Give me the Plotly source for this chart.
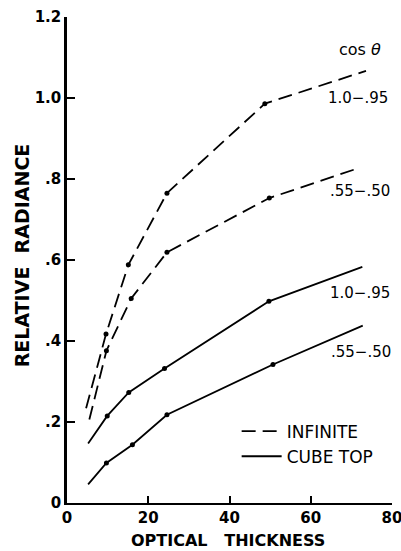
import plotly.graph_objects as go

# ---- data ----
inf_hi_x = [4.7, 9.6, 15.1, 24.6, 48.7, 73.6]
inf_hi_y = [0.234, 0.417, 0.588, 0.765, 0.986, 1.067]
inf_lo_x = [5.5, 9.7, 15.8, 24.6, 49.8, 72.1]
inf_lo_y = [0.206, 0.376, 0.505, 0.619, 0.753, 0.828]
cube_hi_x = [5.2, 9.9, 15.2, 24.0, 49.7, 72.7]
cube_hi_y = [0.147, 0.215, 0.273, 0.332, 0.498, 0.583]
cube_lo_x = [5.2, 9.7, 16.1, 24.6, 50.7, 72.8]
cube_lo_y = [0.046, 0.099, 0.144, 0.218, 0.342, 0.438]

x_ticks = [0, 20, 40, 60, 80]
x_ticktext = ["0", "20", "40", "60", "80"]
y_ticks = [0, 0.2, 0.4, 0.6, 0.8, 1.0, 1.2]
y_ticktext = ["0", ".2", ".4", ".6", ".8", "1.0", "1.2"]

label_hi = "1.0\u2212.95"
label_lo = ".55\u2212.50"
labels = [
    ("cos <i>\u03b8</i>", 72.0, 1.12, 16),
    (label_hi, 71.6, 1.00, 15),
    (label_lo, 72.0, 0.77, 15),
    (label_hi, 72.0, 0.518, 15),
    (label_lo, 72.3, 0.373, 15),
]

DASH = "14px,7px"
FONT = "DejaVu Sans"

fig = go.Figure()
series = [
    (inf_hi_x, inf_hi_y, DASH, "INFINITE", True),
    (inf_lo_x, inf_lo_y, DASH, "INFINITE", False),
    (cube_hi_x, cube_hi_y, "solid", "CUBE TOP", True),
    (cube_lo_x, cube_lo_y, "solid", "CUBE TOP", False),
]
for xs, ys, dash, name, show in series:
    fig.add_trace(go.Scatter(
        x=xs, y=ys, mode="lines", name=name, showlegend=show,
        line=dict(color="black", width=1.8, dash=dash),
        hoverinfo="skip",
    ))
for xs, ys, dash, name, show in series:
    fig.add_trace(go.Scatter(
        x=xs[1:-1], y=ys[1:-1], mode="markers", showlegend=False,
        marker=dict(color="black", size=5),
        hoverinfo="skip",
    ))

for text, lx, ly, sz in labels:
    fig.add_annotation(x=lx, y=ly, text=text, showarrow=False,
                       xanchor="center", yanchor="middle",
                       font=dict(family=FONT, size=sz, color="black"))

fig.add_annotation(xref="paper", yref="paper", x=-0.138, y=0.51,
                   text="RELATIVE  RADIANCE", textangle=-90, showarrow=False,
                   xanchor="center", yanchor="middle",
                   font=dict(family=FONT, size=19, color="black", weight="bold"))
fig.add_annotation(xref="paper", yref="paper", x=0.495, y=-0.078,
                   text="OPTICAL   THICKNESS", showarrow=False,
                   xanchor="center", yanchor="middle",
                   font=dict(family=FONT, size=16, color="black", weight="bold"))

fig.update_layout(
    width=401, height=551,
    margin=dict(l=67, r=9, t=17, b=48, autoexpand=False),
    paper_bgcolor="white", plot_bgcolor="white",
    font=dict(family=FONT, color="black"),
    legend=dict(x=0.522, y=0.184, xanchor="left", yanchor="top",
                bgcolor="rgba(0,0,0,0)", borderwidth=0,
                font=dict(family=FONT, size=17, color="black"),
                tracegroupgap=0, itemwidth=40),
)
fig.update_xaxes(range=[0, 80.001], tickvals=x_ticks, ticktext=x_ticktext,
                 showgrid=False, zeroline=False, showline=True,
                 linecolor="black", linewidth=2, ticks="inside",
                 ticklen=7, tickwidth=1.5, tickcolor="black",
                 ticklabeloverflow="allow", automargin=False,
                 tickfont=dict(family=FONT, size=15, color="black", weight="bold"))
fig.update_yaxes(range=[0, 1.2], tickvals=y_ticks, ticktext=y_ticktext,
                 showgrid=False, zeroline=False, showline=True,
                 linecolor="black", linewidth=2.5, ticks="inside",
                 ticklen=8, tickwidth=1.5, tickcolor="black",
                 automargin=False,
                 tickfont=dict(family=FONT, size=15, color="black", weight="bold"))

fig.write_html("out.html")
